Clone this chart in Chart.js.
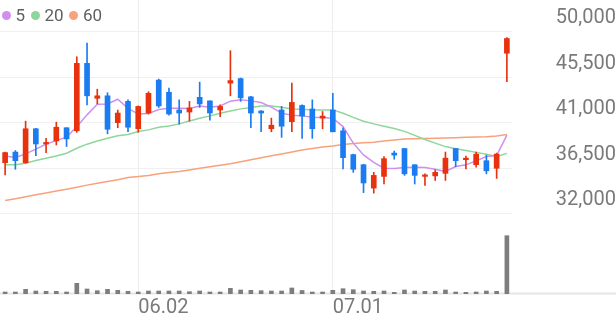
<!DOCTYPE html>
<html>
<head>
<meta charset="utf-8">
<script src="https://cdn.jsdelivr.net/npm/chart.js@4.4.0/dist/chart.umd.min.js"></script>
<style>
    html, body { margin: 0; padding: 0; background: #fff; }
    #wrap { position: relative; width: 616px; height: 321px; }
    #legend {
        position: absolute; left: 1.6px; top: 7px; height: 17px;
        display: flex; align-items: center;
        font: 17px Roboto; line-height: 17px; color: #5f5f5f;
    }
    #legend .item { display: flex; align-items: center; margin-right: 5.5px; }
    #legend .dot { width: 9.4px; height: 9.4px; border-radius: 50%; margin-right: 4.5px; }
</style>
</head>
<body>
<div id="wrap"><canvas id="stockChart"></canvas><div id="legend"></div></div>
<script>
// Fechas (categorías del eje X) y etiquetas visibles
const dates = [
    '05.13', '05.16', '05.17', '05.18', '05.19', '05.20', '05.23', '05.24', '05.25', '05.26',
    '05.27', '05.30', '05.31', '06.02', '06.03', '06.07', '06.08', '06.09', '06.10', '06.13',
    '06.14', '06.15', '06.16', '06.17', '06.20', '06.21', '06.22', '06.23', '06.24', '06.27',
    '06.28', '06.29', '07.01', '07.04', '07.05', '07.06', '07.07', '07.08', '07.11', '07.12',
    '07.13', '07.14', '07.15', '07.18', '07.19', '07.20', '07.21', '07.22', '07.25', '07.26'
];
const xTickLabels = ['06.02', '07.01'];
const priceTicks = [32000, 36500, 41000, 45500, 50000];

// Velas: apertura, máximo, mínimo, cierre
const opens = [
    37050, 38100, 37050, 40400, 38900, 39200, 40500, 40200, 46850, 43400,
    43650, 41000, 43100, 40400, 41950, 45200, 44000, 42250, 42050, 43500,
    43150, 42250, 44900, 45350, 43550, 42150, 40400, 42250, 41100, 42700,
    42350, 41450, 42250, 40200, 37850, 36850, 34550, 35700, 38000, 38450,
    36850, 35700, 35750, 36000, 38450, 37350, 36850, 37250, 36500, 47850
];
const highs = [
    38100, 38250, 41150, 40450, 39450, 41050, 40500, 47500, 48850, 44300,
    43950, 42250, 43250, 42650, 44050, 45300, 44400, 43250, 43100, 45000,
    43150, 42750, 48100, 45400, 43600, 42200, 41450, 42600, 44900, 42750,
    43250, 42100, 43900, 40500, 37900, 36900, 36100, 37650, 38200, 38450,
    36850, 35950, 36350, 38100, 38450, 37700, 38100, 37800, 38000, 49400
];
const lows = [
    35850, 36400, 37000, 37750, 38050, 38800, 38650, 40050, 42750, 42850,
    39900, 40500, 40100, 40050, 41850, 42500, 41750, 40850, 41150, 42500,
    41250, 41600, 43650, 43100, 40500, 40100, 40100, 39550, 40100, 39450,
    39450, 40400, 40100, 36450, 36100, 34100, 34050, 34950, 37400, 35800,
    34950, 34800, 35300, 35300, 36650, 36450, 36600, 35950, 35500, 45050
];
const closes = [
    38050, 37250, 40400, 38900, 39050, 40550, 39400, 46850, 43650, 43650,
    40350, 41950, 40550, 42600, 43900, 42650, 41850, 41950, 42450, 42850,
    41950, 42600, 45150, 43450, 41950, 41950, 40750, 40650, 43000, 41650,
    40400, 41650, 40100, 37550, 36400, 35050, 35800, 37450, 37800, 35950,
    35800, 35850, 36100, 37500, 37250, 37500, 37900, 36250, 37900, 49300
];
const volumes = [
    20000, 20000, 47000, 30000, 27000, 27000, 20000, 107000, 50000, 33000,
    47000, 37000, 27000, 20000, 30000, 30000, 30000, 30000, 23000, 30000,
    20000, 20000, 57000, 40000, 37000, 33000, 30000, 30000, 60000, 35000,
    20000, 20000, 37000, 53000, 43000, 30000, 27000, 30000, 17000, 40000,
    30000, 27000, 27000, 40000, 20000, 17000, 20000, 30000, 27000, 583000
];

// Medias móviles
const ma5 = [
    37720, 37560, 37920, 38390, 38880, 39230, 39570, 40610, 41770, 42820,
    42850, 43310, 42400, 41850, 41900, 42300, 42420, 42430, 42390, 42650,
    42530, 42650, 43120, 43250, 43150, 42980, 42530, 41940, 41740, 41670,
    41540, 41500, 41440, 40610, 38980, 37820, 37080, 36510, 36480, 36570,
    36610, 36580, 36410, 36180, 36670, 36840, 37230, 37660, 37750, 39770
];
const ma20 = [
    36840, 36840, 37000, 37260, 37500, 37720, 37990, 38480, 38880, 39200,
    39470, 39700, 39830, 40120, 40290, 40550, 40680, 40880, 41170, 41440,
    41670, 41930, 42160, 42360, 42500, 42650, 42650, 42530, 42360, 42330,
    42260, 42260, 42260, 41935, 41520, 41140, 40880, 40650, 40430, 40140,
    39750, 39340, 38980, 38640, 38420, 38250, 38070, 37890, 37660, 37970
];
const ma60 = [
    33320, 33500, 33690, 33880, 34070, 34260, 34440, 34640, 34840, 35030,
    35200, 35370, 35600, 35680, 35800, 35950, 36080, 36180, 36340, 36500,
    36650, 36790, 36950, 37150, 37350, 37550, 37740, 37920, 38110, 38300,
    38450, 38600, 38710, 38850, 38950, 39030, 39080, 39180, 39280, 39380,
    39420, 39440, 39460, 39490, 39520, 39550, 39580, 39620, 39690, 39830
];

const UP_COLOR = '#e8320e';
const DOWN_COLOR = '#1a7cf0';
const candleColors = closes.map((c, i) => (c >= opens[i] ? UP_COLOR : DOWN_COLOR));

Chart.defaults.font.family = 'Roboto';

// Línea base bajo el volumen, a lo ancho de todo el lienzo
const baseLine = {
    id: 'baseLine',
    beforeDatasetsDraw(chart) {
        const { ctx, chartArea } = chart;
        ctx.save();
        ctx.fillStyle = '#e6e6e6';
        ctx.fillRect(0, chartArea.bottom - 1.5, chart.width, 2);
        ctx.restore();
    }
};

// Leyenda HTML con las medias móviles
const htmlLegend = {
    id: 'htmlLegend',
    afterUpdate(chart) {
        const box = document.getElementById('legend');
        box.innerHTML = '';
        chart.data.datasets.forEach(ds => {
            if (!ds.isMA) return;
            const item = document.createElement('span');
            item.className = 'item';
            const dot = document.createElement('span');
            dot.className = 'dot';
            dot.style.background = ds.borderColor;
            const text = document.createElement('span');
            text.textContent = ds.label;
            item.appendChild(dot);
            item.appendChild(text);
            box.appendChild(item);
        });
    }
};

const maLine = (label, data, color) => ({
    type: 'line',
    label: label,
    data: data,
    borderColor: color,
    backgroundColor: color,
    borderWidth: 1.5,
    pointRadius: 0,
    tension: 0,
    yAxisID: 'y',
    isMA: true,
});

new Chart(document.getElementById('stockChart').getContext('2d'), {
    type: 'bar',
    data: {
        labels: dates,
        datasets: [
            {
                label: 'body',
                data: opens.map((o, i) => [o, closes[i]]),
                backgroundColor: candleColors,
                barThickness: 5,
                minBarLength: 1.5,
                grouped: false,
                yAxisID: 'y',
            },
            {
                label: 'wick',
                data: lows.map((l, i) => [l, highs[i]]),
                backgroundColor: candleColors,
                barThickness: 1,
                grouped: false,
                yAxisID: 'y',
            },
            maLine('5', ma5, '#d08ff0'),
            maLine('20', ma20, '#8ed69b'),
            maLine('60', ma60, '#f8a17b'),
            {
                label: 'volume',
                data: volumes,
                backgroundColor: '#7d7d7d',
                barThickness: 4,
                grouped: false,
                yAxisID: 'yVol',
            },
        ],
    },
    options: {
        responsive: true,
        maintainAspectRatio: false,
        animation: false,
        layout: { padding: 0 },
        scales: {
            x: {
                offset: true,
                grid: {
                    offset: false,
                    drawTicks: false,
                    color: c => (xTickLabels.includes(dates[c.index]) ? '#ececec' : 'rgba(0,0,0,0)'),
                },
                border: { display: false },
                ticks: {
                    autoSkip: false,
                    maxRotation: 0,
                    minRotation: 0,
                    align: 'start',
                    padding: 1.5,
                    color: '#7a7a7a',
                    font: { size: 20 },
                    callback: (v, i) => (xTickLabels.includes(dates[i]) ? dates[i] : ''),
                },
                afterFit: s => { s.height = 27; s.paddingLeft = 0; s.paddingRight = 0; },
            },
            y: {
                position: 'right',
                min: 24100,
                max: 53100,
                afterBuildTicks: s => { s.ticks = priceTicks.map(v => ({ value: v })); },
                afterFit: s => { s.width = 104; s.paddingTop = 0; s.paddingBottom = 0; },
                grid: { color: '#f0f0f0', drawTicks: false },
                border: { display: false },
                ticks: {
                    padding: 40,
                    crossAlign: 'far',
                    labelOffset: -13.5,
                    color: '#7a7a7a',
                    font: { size: 20 },
                    callback: v => v.toLocaleString('en-US'),
                },
            },
            yVol: {
                display: false,
                min: 0,
                max: 2940000,
            },
        },
        plugins: {
            tooltip: { enabled: false },
            legend: { display: false },
        },
    },
    plugins: [baseLine, htmlLegend],
});
</script>
</body>
</html>
